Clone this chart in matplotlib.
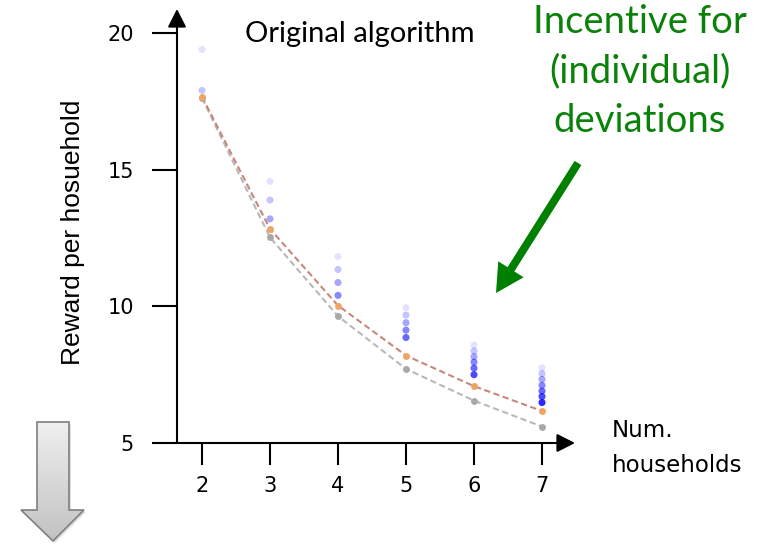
import numpy as np
import matplotlib
matplotlib.use("Agg")
import matplotlib.pyplot as plt
from matplotlib.patches import Polygon, FancyArrow

# ---- data ----
households = [2, 3, 4, 5, 6, 7]
reward_algorithm = [17.67, 12.83, 10.03, 8.20, 7.08, 6.17]
reward_baseline = [17.62, 12.52, 9.64, 7.71, 6.55, 5.60]
deviation_rewards = [
    [19.40, 17.90],
    [14.57, 13.89, 13.20],
    [11.82, 11.35, 10.87, 10.40],
    [9.95, 9.68, 9.40, 9.13, 8.86],
    [8.58, 8.37, 8.16, 7.96, 7.74, 7.50],
    [7.75, 7.54, 7.33, 7.11, 6.90, 6.70, 6.48],
]
y_ticks = [5, 10, 15, 20]
y_label = "Reward per hosuehold"
x_label_lines = ["Num.", "households"]
title_text = "Original algorithm"
note_lines = ["Incentive for", "(individual)", "deviations"]

plt.rcParams['font.family'] = ['DejaVu Sans']
plt.rcParams['xtick.labelsize'] = 15
plt.rcParams['ytick.labelsize'] = 15

W, H = 774, 544
fig = plt.figure(figsize=(W / 100, H / 100), dpi=100)

# main axes: left spine at px 177, x-axis at px 443, arrow tips at x=575, y=9
ax = fig.add_axes([177 / W, (H - 443) / H, (575 - 177) / W, (443 - 9) / H])
ax.set_xlim(2 - 25 / 68, 7 + 33 / 68)
ax.set_ylim(5, 20 + 24 / 27.33)
ax.set_facecolor('none')
for s in ax.spines.values():
    s.set_visible(False)
ax.set_xticks(households)
ax.set_yticks(y_ticks)
ax.tick_params(axis='y', length=18, width=1.5, pad=13.0, labelsize=15)
ax.tick_params(axis='x', length=16, width=1.5, pad=8.0, labelsize=15)

arrow_kw = dict(arrowstyle='-|>,head_length=0.55,head_width=0.28', lw=1.5,
                color='k', mutation_scale=20, shrinkA=0, shrinkB=0)
ax.annotate('', xy=(1, 0), xytext=(0, 0), xycoords='axes fraction',
            arrowprops=arrow_kw, annotation_clip=False)
ax.annotate('', xy=(0, 1), xytext=(0, 0), xycoords='axes fraction',
            arrowprops=arrow_kw, annotation_clip=False)

# lines
ax.plot(households, reward_baseline, color='#b8b8b8', lw=1.5, dashes=(3, 1.7), zorder=2)
ax.plot(households, reward_algorithm, color='#c8877c', lw=1.5, dashes=(3, 1.7), zorder=2)
ax.plot(households, reward_baseline, 'o', ms=5, color='#a9a9a9', mec='none', zorder=3)
ax.plot(households, reward_algorithm, 'o', ms=5, color='#f0a464', mec='none', zorder=3)

# deviation dots
for x, vals in zip(households, deviation_rewards):
    n = len(vals)
    cols = [(0.0, 0.0, 1.0, 0.11 + 0.12 * i) for i in range(n)]
    ax.scatter([x] * n, vals, s=26, c=cols, edgecolors='none', zorder=4)

ax.set_ylabel(y_label, fontsize=19, family='Liberation Sans', va='center')
ax.yaxis.set_label_coords((73 - 177) / 398, (443 - 232) / 434)

# overlay in image pixel coordinates
ov = fig.add_axes([0, 0, 1, 1])
ov.set_xlim(0, W)
ov.set_ylim(H, 0)
ov.axis('off')
ov.patch.set_alpha(0)

ov.text(612, 437, x_label_lines[0], fontsize=16.5, ha='left', va='baseline')
ov.text(612, 472, x_label_lines[1], fontsize=16.5, ha='left', va='baseline')

ov.text(359.5, 42, title_text, fontsize=21, family='Lato', ha='center', va='baseline')

green = '#0a820a'
for txt, yb in zip(note_lines, [33, 82, 132]):
    ov.text(639.5, yb, txt, fontsize=27.5, family='Lato', color=green,
            ha='center', va='baseline')

# green arrow
x0, y0, x1, y1 = 578, 163, 496, 293
ov.add_patch(FancyArrow(x0, y0, x1 - x0, y1 - y0, width=8, head_width=30,
                        head_length=28, length_includes_head=True,
                        color='#008000', lw=0))

# gray block arrow with gradient
pts = [(37, 422), (69, 422), (69, 510), (84, 510), (53, 541), (21, 510), (37, 510)]
shadow = Polygon([(px + 2, py + 2) for px, py in pts], closed=True,
                 facecolor='#000000', alpha=0.12, edgecolor='none')
ov.add_patch(shadow)
poly = Polygon(pts, closed=True, facecolor='none', edgecolor='#7f7f7f', lw=1.2, zorder=3)
ov.add_patch(poly)
grad = np.linspace(0, 1, 100)[:, None] * np.ones((1, 10))
img = ov.imshow(grad, extent=(21, 84, 541, 422), cmap=matplotlib.colors.LinearSegmentedColormap.from_list(
    'g', ['#efefef', '#c2c2c2']), aspect='auto', zorder=2, vmin=0, vmax=1)
img.set_clip_path(poly)
ov.set_xlim(0, W)
ov.set_ylim(H, 0)

fig.savefig('out.png', dpi=100)
